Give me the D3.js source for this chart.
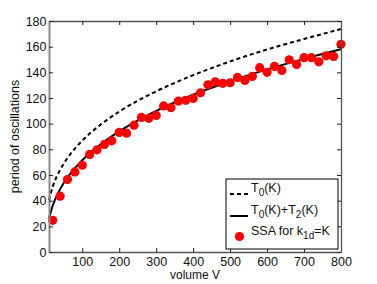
<!DOCTYPE html>
<html>
<head>
<meta charset="utf-8">
<script src="https://cdn.jsdelivr.net/npm/d3@7"></script>
<style>
  body { margin: 0; background: #fff; }
  text { font-family: "Liberation Sans", Arial, sans-serif; }
</style>
</head>
<body>
<svg id="chart" width="377" height="284"></svg>
<script>
// SSA simulation points
const ssaVolume = [20, 40, 60, 80, 100, 120, 140, 160, 180, 200, 220, 240, 260, 280, 300, 320, 340, 360, 380, 400,
                   420, 440, 460, 480, 500, 520, 540, 560, 580, 600, 620, 640, 660, 680, 700, 720, 740, 760, 780, 800];
const ssaPeriod = [24.7, 43.5, 56.5, 62.4, 67.6, 76, 79.6, 83.8, 86.6, 93.2, 92.6, 98.8, 104.9, 104.2, 106.4, 113.8, 112.4, 117.6, 118.2, 119.7,
                   124.1, 130.3, 132.6, 131.4, 131.9, 136, 133.7, 136.8, 143.6, 140, 144.6, 141.5, 149.8, 146.2, 151.4, 151.4, 148.2, 152.9, 152.4, 161.8];

// theory curves
const curveVolume = [10, 20, 40, 60, 100, 150, 200, 300, 400, 500, 600, 700, 800];
const t0 = [40.3, 50.8, 64, 73.2, 86.8, 99.3, 109.4, 125.2, 137.8, 148.5, 157.8, 166, 173.7];
const t0t2 = [26.2, 36, 49, 58, 71.5, 84, 94, 110, 122.5, 133, 142.3, 150.5, 158];

const xTicks = [100, 200, 300, 400, 500, 600, 700, 800];
const yTicks = [0, 20, 40, 60, 80, 100, 120, 140, 160, 180];

const svg = d3.select("#chart");
const mLeft = 49, mRight = 341, mTop = 21, mBottom = 252;

const x = d3.scaleLinear().domain([10, 800]).range([mLeft, mRight]);
const y = d3.scaleLinear().domain([0, 180]).range([mBottom, mTop]);

// curves
const line = d3.line().curve(d3.curveMonotoneX);
svg.append("path")
  .attr("d", line(curveVolume.map((v, i) => [x(v), y(t0[i])])))
  .attr("fill", "none")
  .attr("stroke", "#000")
  .attr("stroke-width", 2)
  .attr("stroke-dasharray", "4,3");

svg.append("path")
  .attr("d", line(curveVolume.map((v, i) => [x(v), y(t0t2[i])])))
  .attr("fill", "none")
  .attr("stroke", "#000")
  .attr("stroke-width", 2);

svg.append("g")
  .selectAll("circle")
  .data(ssaVolume)
  .join("circle")
  .attr("cx", d => x(d))
  .attr("cy", (d, i) => y(ssaPeriod[i]))
  .attr("r", 4.6)
  .attr("fill", "#ff0000");

// axes
const xAxis = svg.append("g")
  .attr("transform", `translate(0,${mBottom})`)
  .call(d3.axisBottom(x).tickValues(xTicks).tickSizeInner(-4).tickSizeOuter(0).tickPadding(5));
const xAxisTop = svg.append("g")
  .attr("transform", `translate(0,${mTop})`)
  .call(d3.axisTop(x).tickValues(xTicks).tickSizeInner(-4).tickSizeOuter(0).tickFormat(""));
const yAxis = svg.append("g")
  .attr("transform", `translate(${mLeft},0)`)
  .call(d3.axisLeft(y).tickValues(yTicks).tickSizeInner(-4).tickSizeOuter(0).tickPadding(2.5));
const yAxisRight = svg.append("g")
  .attr("transform", `translate(${mRight},0)`)
  .call(d3.axisRight(y).tickValues(yTicks).tickSizeInner(-4).tickSizeOuter(0).tickFormat(""));

[xAxis, xAxisTop, yAxis, yAxisRight].forEach(g => {
  g.select(".domain").attr("stroke", "#555").attr("stroke-width", 1.3);
  g.selectAll(".tick line").attr("stroke", "#222");
  g.selectAll(".tick text").attr("font-size", 12.5).attr("fill", "#111")
    .attr("font-family", "Liberation Sans, Arial, sans-serif");
});
yAxis.select(".domain").attr("stroke", "#888").attr("stroke-width", 2);

// axis labels
svg.append("text")
  .attr("x", (mLeft + mRight) / 2)
  .attr("y", 279)
  .attr("text-anchor", "middle")
  .attr("font-size", 12)
  .attr("fill", "#111")
  .text("volume V");

svg.append("text")
  .attr("transform", `translate(18.5,${(mTop + mBottom) / 2}) rotate(-90)`)
  .attr("text-anchor", "middle")
  .attr("font-size", 12.5)
  .attr("fill", "#111")
  .text("period of oscillations");

// legend
const legend = svg.append("g");
legend.append("rect")
  .attr("x", 226).attr("y", 179)
  .attr("width", 112).attr("height", 70)
  .attr("fill", "#fff")
  .attr("stroke", "#000")
  .attr("stroke-width", 1);

legend.append("line")
  .attr("x1", 230).attr("x2", 248).attr("y1", 194).attr("y2", 194)
  .attr("stroke", "#000").attr("stroke-width", 2).attr("stroke-dasharray", "4,3");
legend.append("line")
  .attr("x1", 230).attr("x2", 248).attr("y1", 216).attr("y2", 216)
  .attr("stroke", "#000").attr("stroke-width", 2);
legend.append("circle")
  .attr("cx", 239.5).attr("cy", 236.5).attr("r", 4.6).attr("fill", "#ff0000");

const l1 = legend.append("text").attr("x", 251).attr("y", 192).attr("font-size", 12.5).attr("fill", "#111");
l1.append("tspan").text("T");
l1.append("tspan").text("0").attr("font-size", 10).attr("dy", 4);
l1.append("tspan").text("(K)").attr("dy", -4);

const l2 = legend.append("text").attr("x", 251).attr("y", 214).attr("font-size", 12.5).attr("fill", "#111");
l2.append("tspan").text("T");
l2.append("tspan").text("0").attr("font-size", 10).attr("dy", 4);
l2.append("tspan").text("(K)+T").attr("dy", -4);
l2.append("tspan").text("2").attr("font-size", 10).attr("dy", 4);
l2.append("tspan").text("(K)").attr("dy", -4);

const l3 = legend.append("text").attr("x", 251).attr("y", 235).attr("font-size", 12.5).attr("fill", "#111");
l3.append("tspan").text("SSA for k");
l3.append("tspan").text("1d").attr("font-size", 10).attr("dy", 4);
l3.append("tspan").text("=K").attr("dy", -4);
</script>
</body>
</html>
